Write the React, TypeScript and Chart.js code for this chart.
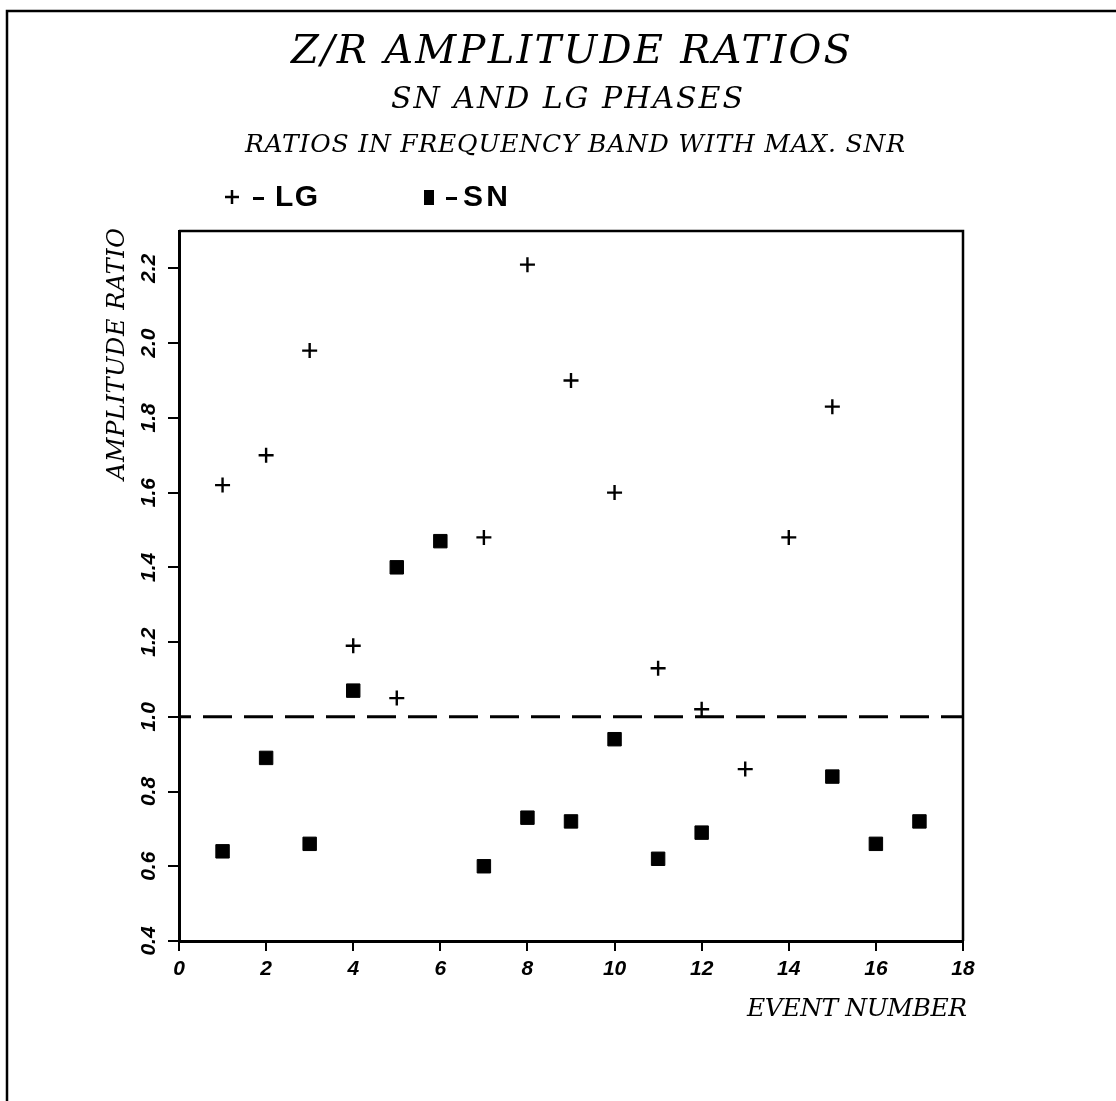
import React, { useEffect, useRef } from "react";
import { Chart, registerables } from "chart.js";

Chart.register(...registerables);

// ---- data ----
const LG_EVENTS = [1, 2, 3, 4, 5, 7, 8, 9, 10, 11, 12, 13, 14, 15];
const LG_RATIOS = [1.62, 1.7, 1.98, 1.19, 1.05, 1.48, 2.21, 1.9, 1.6, 1.13, 1.02, 0.86, 1.48, 1.83];
const SN_EVENTS = [1, 2, 3, 4, 5, 6, 7, 8, 9, 10, 11, 12, 15, 16, 17];
const SN_RATIOS = [0.64, 0.89, 0.66, 1.07, 1.4, 1.47, 0.6, 0.73, 0.72, 0.94, 0.62, 0.69, 0.84, 0.66, 0.72];
const REF_X = [0, 18];
const REF_Y = 1.0;
const X_TICKS = [0, 2, 4, 6, 8, 10, 12, 14, 16, 18];
const Y_TICKS = [0.4, 0.6, 0.8, 1.0, 1.2, 1.4, 1.6, 1.8, 2.0, 2.2];

const TITLE = "Z/R AMPLITUDE RATIOS";
const SUBTITLE = "SN AND LG PHASES";
const SUBTITLE2 = "RATIOS IN FREQUENCY BAND WITH MAX. SNR";
const X_TITLE = "EVENT NUMBER";
const Y_TITLE = "AMPLITUDE RATIO";
const LEGEND_LG = "LG";
const LEGEND_SN = "SN";

const W = 1116;
const H = 1101;
const SERIF = "'DejaVu Serif'";

// draw text stretched (via letter spacing) to a given width
function fitText(
  ctx: CanvasRenderingContext2D,
  text: string,
  x: number,
  y: number,
  font: string,
  width: number,
  align: "left" | "center" | "right"
) {
  ctx.save();
  ctx.font = font;
  ctx.textBaseline = "alphabetic";
  ctx.fillStyle = "#000";
  const natural = ctx.measureText(text).width;
  const n = Math.max(1, text.length - 1);
  const ls = (width - natural) / n;
  (ctx as any).letterSpacing = ls + "px";
  ctx.textAlign = "left";
  let x0 = x;
  if (align === "center") x0 = x - width / 2;
  if (align === "right") x0 = x - width;
  ctx.fillText(text, x0, y);
  ctx.restore();
}

const decorPlugin = {
  id: "decor",
  beforeDraw(chart: any) {
    const ctx = chart.ctx as CanvasRenderingContext2D;
    ctx.save();
    ctx.fillStyle = "#fff";
    ctx.fillRect(0, 0, W, H);
    // page frame (top and left edges)
    ctx.strokeStyle = "#000";
    ctx.lineWidth = 2.5;
    ctx.beginPath();
    ctx.moveTo(7, H);
    ctx.lineTo(7, 11);
    ctx.lineTo(W, 11);
    ctx.stroke();
    ctx.restore();
  },
  afterDraw(chart: any) {
    const ctx = chart.ctx as CanvasRenderingContext2D;
    const a = chart.chartArea;
    const xs = chart.scales.x;
    const ys = chart.scales.y;
    const cx = (a.left + a.right) / 2;

    // top & right plot frame
    ctx.save();
    ctx.strokeStyle = "#000";
    ctx.lineWidth = 2.5;
    ctx.beginPath();
    ctx.moveTo(a.left, a.top);
    ctx.lineTo(a.right, a.top);
    ctx.lineTo(a.right, a.bottom);
    ctx.stroke();
    ctx.restore();

    // titles
    fitText(ctx, TITLE, cx, 63, `italic 40px ${SERIF}`, 560, "center");
    fitText(ctx, SUBTITLE, cx - 4, 108, `italic 30px ${SERIF}`, 352, "center");
    fitText(ctx, SUBTITLE2, cx + 4, 152, `italic 25px ${SERIF}`, 660, "center");

    // legend: symbols, dashes and labels
    ctx.save();
    ctx.strokeStyle = "#000";
    ctx.fillStyle = "#000";
    ctx.lineWidth = 2.5;
    ctx.beginPath();
    ctx.moveTo(225, 197);
    ctx.lineTo(239, 197);
    ctx.moveTo(232, 190);
    ctx.lineTo(232, 204);
    ctx.stroke();
    ctx.fillRect(424, 190, 10, 15);
    ctx.fillRect(253, 197, 11, 3);
    ctx.fillRect(446, 197, 11, 3);
    ctx.restore();
    fitText(ctx, LEGEND_LG, 275, 206, "bold 30px 'Liberation Sans'", 43, "left");
    fitText(ctx, LEGEND_SN, 463, 206, "bold 30px 'Liberation Sans'", 45, "left");

    // y tick labels (rotated)
    ctx.save();
    ctx.font = "italic bold 21px 'Liberation Sans'";
    ctx.fillStyle = "#000";
    ctx.textAlign = "center";
    ctx.textBaseline = "middle";
    (ys.ticks as any[]).forEach((t) => {
      const py = ys.getPixelForValue(t.value);
      ctx.save();
      ctx.translate(149, py);
      ctx.rotate(-Math.PI / 2);
      ctx.fillText(Number(t.value).toFixed(1), 0, 0);
      ctx.restore();
    });
    ctx.restore();

    // axis titles
    fitText(ctx, X_TITLE, xs.right + 4, 1016, `italic 25px ${SERIF}`, 220, "right");
    ctx.save();
    ctx.translate(124, 480);
    ctx.rotate(-Math.PI / 2);
    fitText(ctx, Y_TITLE, 0, 0, `italic 24px ${SERIF}`, 252, "left");
    ctx.restore();
  },
};

export default function App() {
  const ref = useRef<HTMLCanvasElement | null>(null);

  useEffect(() => {
    const canvas = ref.current;
    if (!canvas) return;
    const chart = new Chart(canvas, {
      type: "scatter",
      data: {
        datasets: [
          {
            label: "LG",
            data: LG_EVENTS.map((e, i) => ({ x: e, y: LG_RATIOS[i] })),
            pointStyle: "cross",
            pointRadius: 7.5,
            borderWidth: 2.4,
            borderColor: "#000",
            backgroundColor: "#000",
          },
          {
            label: "SN",
            data: SN_EVENTS.map((e, i) => ({ x: e, y: SN_RATIOS[i] })),
            pointStyle: "rect",
            pointRadius: 9.5,
            borderWidth: 1,
            borderColor: "#000",
            backgroundColor: "#000",
          },
          {
            type: "line",
            label: "ref",
            data: REF_X.map((x) => ({ x, y: REF_Y })),
            borderColor: "#000",
            borderWidth: 3,
            borderDash: [29, 12],
            borderDashOffset: 17,
            pointRadius: 0,
            fill: false,
          } as any,
        ],
      },
      options: {
        responsive: false,
        animation: false,
        devicePixelRatio: 1,
        layout: { padding: { top: 231, right: 153, bottom: 100, left: 0 } },
        plugins: {
          legend: { display: false },
          title: { display: false },
          tooltip: { enabled: false },
        },
        scales: {
          x: {
            type: "linear",
            min: 0,
            max: 18,
            afterBuildTicks: (s: any) => {
              s.ticks = X_TICKS.map((v) => ({ value: v }));
            },
            afterFit: (s: any) => {
              s.height = 60;
            },
            ticks: {
              color: "#000",
              padding: 6,
              font: { family: "'Liberation Sans'", size: 21, style: "italic", weight: "bold" },
              callback: (v: any) => String(v),
            },
            grid: {
              drawOnChartArea: false,
              drawTicks: true,
              tickLength: 10,
              color: "#000",
              lineWidth: 2,
            },
            border: { display: true, color: "#000", width: 3 },
          },
          y: {
            type: "linear",
            min: 0.4,
            max: 2.3,
            afterBuildTicks: (s: any) => {
              s.ticks = Y_TICKS.map((v) => ({ value: v }));
            },
            afterFit: (s: any) => {
              s.width = 179;
            },
            ticks: { display: false },
            grid: {
              drawOnChartArea: false,
              drawTicks: true,
              tickLength: 11,
              color: "#000",
              lineWidth: 2,
            },
            border: { display: true, color: "#000", width: 3 },
          },
        },
      },
      plugins: [decorPlugin],
    });
    return () => chart.destroy();
  }, []);

  return (
    <div style={{ position: "fixed", left: 0, top: 0, width: W, height: H, background: "#fff" }}>
      <canvas ref={ref} width={W} height={H} style={{ display: "block" }} />
    </div>
  );
}
